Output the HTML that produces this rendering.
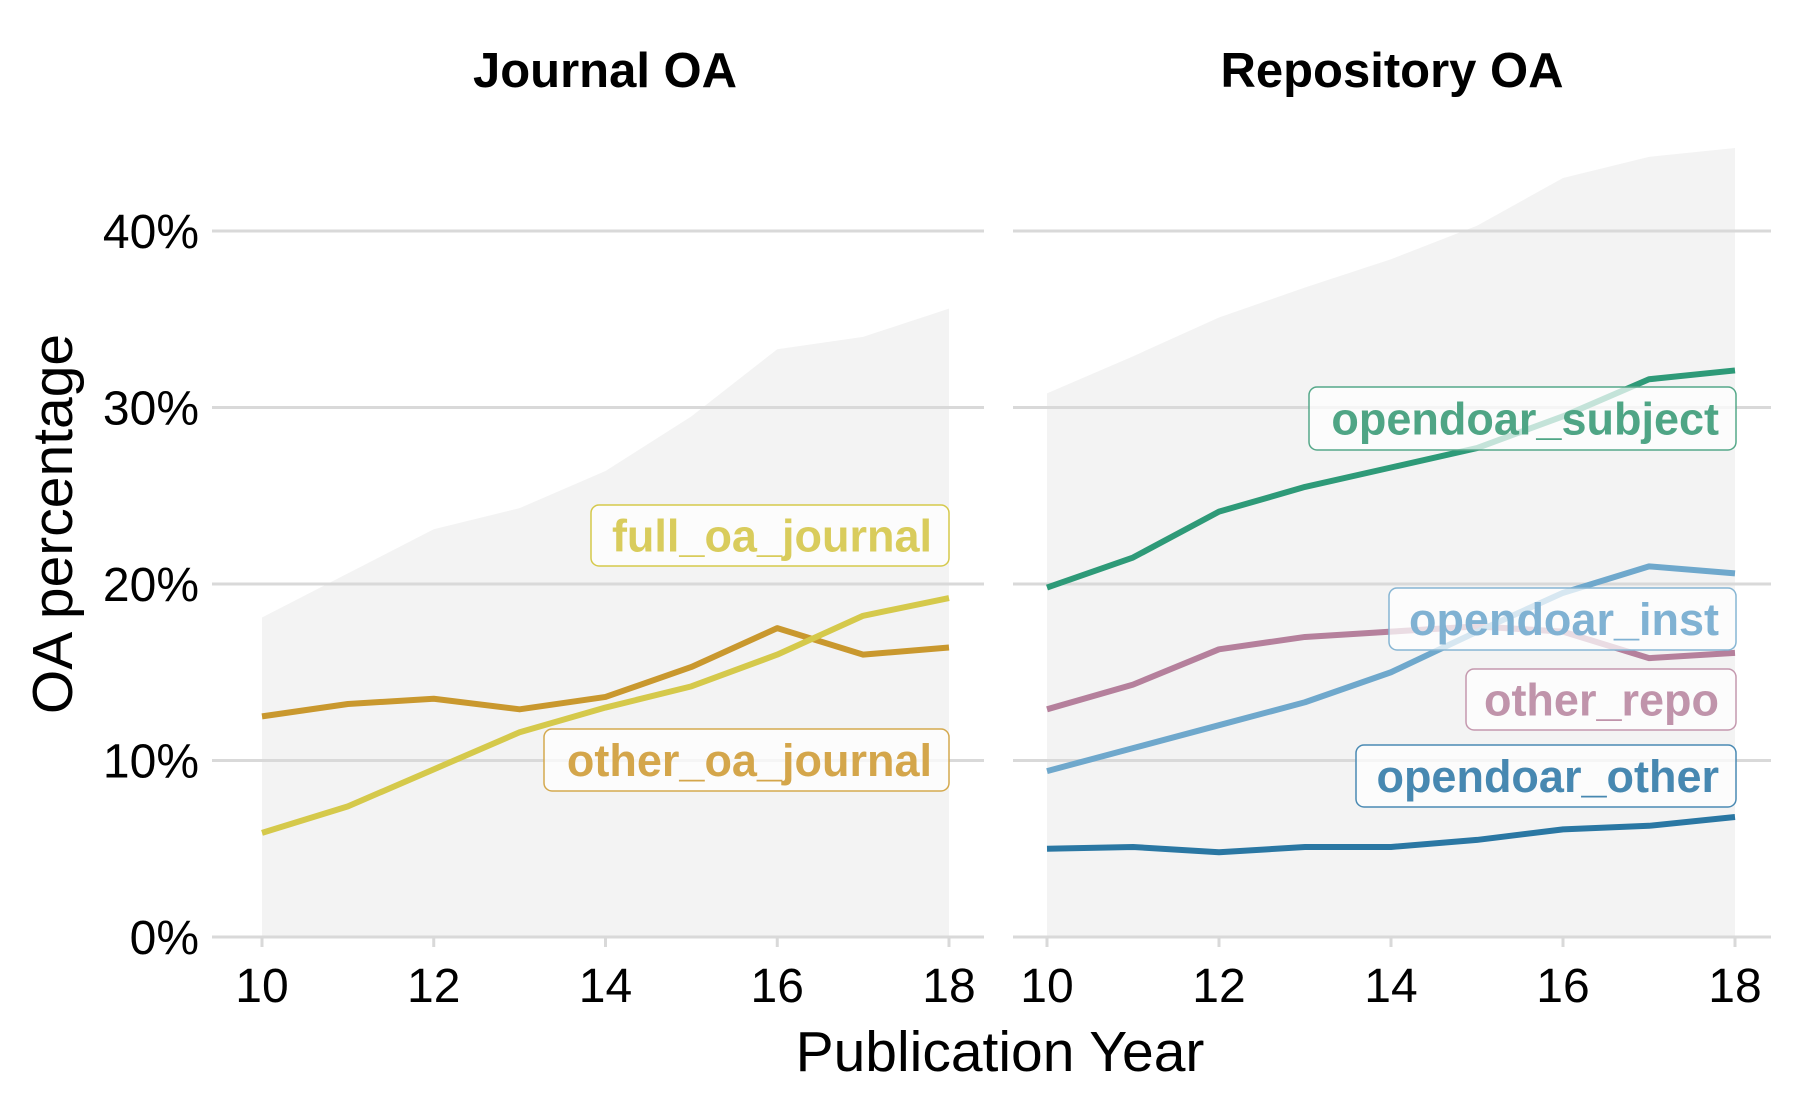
<!DOCTYPE html>
<html><head><meta charset="utf-8"><style>
html,body{margin:0;padding:0;background:#fff}
svg{display:block;font-family:"Liberation Sans",sans-serif}
</style></head><body>
<svg id="chart" width="1800" height="1112" viewBox="0 0 1800 1112" xmlns="http://www.w3.org/2000/svg">
<text x="605" y="87" text-anchor="middle" font-size="49" font-weight="bold">Journal OA</text>
<text x="1392" y="87" text-anchor="middle" font-size="49" font-weight="bold">Repository OA</text>
<text transform="translate(72,524) rotate(-90)" text-anchor="middle" font-size="57">OA percentage</text>
<text x="1000" y="1071" text-anchor="middle" font-size="57">Publication Year</text>
<g id="plot"></g>
</svg>
<script>
const years = [10,11,12,13,14,15,16,17,18];
const yTicks = [0,10,20,30,40];
const xTicks = [10,12,14,16,18];
const journalTotal = [18.1,20.6,23.1,24.3,26.4,29.5,33.3,34.0,35.6];
const fullOaJournal = [5.9,7.4,9.5,11.6,13.0,14.2,16.0,18.2,19.2];
const otherOaJournal = [12.5,13.2,13.5,12.9,13.6,15.3,17.5,16.0,16.4];
const repoTotal = [30.8,32.9,35.1,36.8,38.4,40.3,43.0,44.2,44.7];
const opendoarSubject = [19.8,21.5,24.1,25.5,26.6,27.7,29.5,31.6,32.1];
const opendoarInst = [9.4,10.7,12.0,13.3,15.0,17.3,19.5,21.0,20.6];
const otherRepo = [12.9,14.3,16.3,17.0,17.3,17.6,17.3,15.8,16.1];
const opendoarOther = [5.0,5.1,4.8,5.1,5.1,5.5,6.1,6.3,6.8];

const NS="http://www.w3.org/2000/svg";
const g=document.getElementById('plot');
function yS(v){return 937-(v/10)*176.5;}
function mk(tag,attrs,parent){const e=document.createElementNS(NS,tag);for(const k in attrs)e.setAttribute(k,attrs[k]);(parent||g).appendChild(e);return e;}

const panels=[
 {key:'journal',x0:262,x1:949,gl:212,gr:984,total:journalTotal,
  series:[{n:'other-oa-journal',d:otherOaJournal,c:'#c9982e'},{n:'full-oa-journal',d:fullOaJournal,c:'#d5c94b'}],
  labels:[{t:'full_oa_journal',c:'#d5c94b',x:591,y:505,w:358,h:61,tc:'#d9cc5c'},
          {t:'other_oa_journal',c:'#d4a94e',x:544,y:729,w:405,h:62,tc:'#d4a64b'}]},
 {key:'repository',x0:1047,x1:1735,gl:1013,gr:1771,total:repoTotal,
  series:[{n:'opendoar-subject',d:opendoarSubject,c:'#2e9a78'},{n:'other-repo',d:otherRepo,c:'#b5809c'},{n:'opendoar-inst',d:opendoarInst,c:'#6fa8cc'},{n:'opendoar-other',d:opendoarOther,c:'#2a77a3'}],
  labels:[{t:'opendoar_subject',c:'#55a889',x:1309,y:387,w:427,h:63,tc:'#4fa585'},
          {t:'opendoar_inst',c:'#86b5d3',x:1389,y:588,w:347,h:62,tc:'#80b2d3'},
          {t:'other_repo',c:'#c498ae',x:1466,y:669,w:270,h:61,tc:'#c094ab'},
          {t:'opendoar_other',c:'#4a8ab3',x:1356,y:745,w:380,h:62,tc:'#4788b1'}]}
];

panels.forEach(p=>{
  const xS=v=>p.x0+(v-10)*(p.x1-p.x0)/8;
  let d='M'+xS(years[0])+','+yS(0);
  years.forEach((yr,i)=>{d+=' L'+xS(yr)+','+yS(p.total[i]);});
  d+=' L'+xS(years[years.length-1])+','+yS(0)+' Z';
  const a=mk('path',{d:d,fill:'#f3f3f3'});
  
  
  yTicks.forEach(t=>{
    const l=mk('line',{x1:p.gl,x2:p.gr,y1:yS(t),y2:yS(t),stroke:'#d9d9d9','stroke-width':3});
    
    
  });
  xTicks.forEach(t=>{
    const l=mk('line',{x1:xS(t),x2:xS(t),y1:yS(0),y2:yS(0)+10,stroke:'#d9d9d9','stroke-width':3});
    
    
    const tx=mk('text',{x:xS(t),y:1002,'text-anchor':'middle','font-size':48});
    tx.textContent=t;
    
    
  });
  p.series.forEach(s=>{
    const pts=years.map((yr,i)=>xS(yr)+','+yS(s.d[i])).join(' ');
    const pl=mk('polyline',{points:pts,fill:'none',stroke:s.c,'stroke-width':6,'stroke-linejoin':'round'});
    
    
  });
  p.labels.forEach(lb=>{
    const r=mk('rect',{x:lb.x,y:lb.y,width:lb.w,height:lb.h,rx:8,fill:'rgba(255,255,255,0.72)',stroke:lb.c,'stroke-width':1.5});
    
    
    const t=mk('text',{x:lb.x+lb.w-17,y:lb.y+lb.h/2+16,'text-anchor':'end','font-size':45,'font-weight':'bold',fill:lb.tc});
    t.textContent=lb.t;
    
    
  });
});
yTicks.forEach(t=>{
  const tx=mk('text',{x:199,y:yS(t)+17,'text-anchor':'end','font-size':48});
  tx.textContent=t+'%';
  
  
});
</script>
</body></html>
